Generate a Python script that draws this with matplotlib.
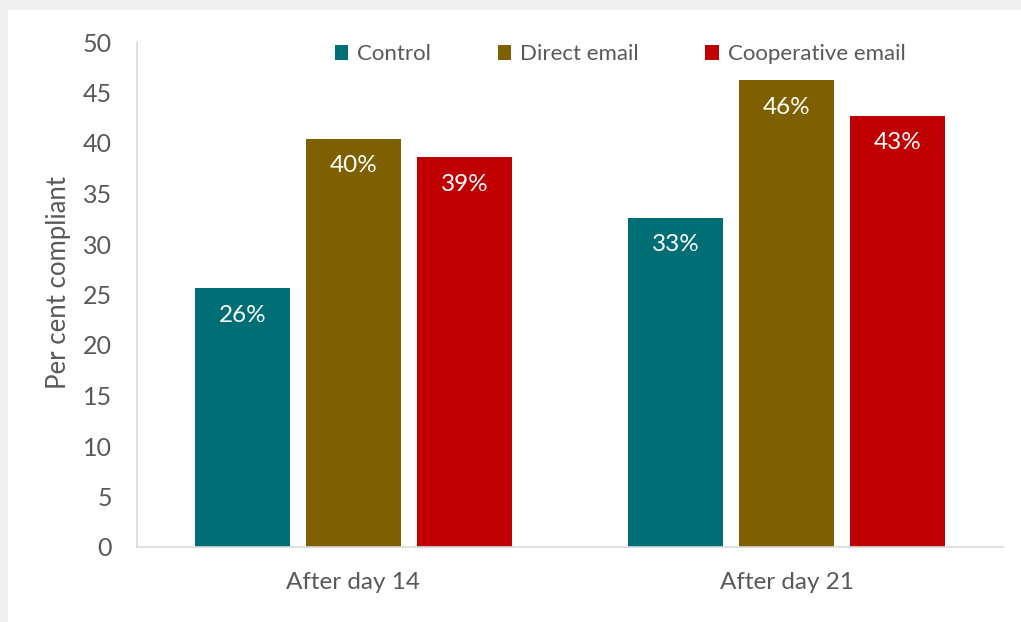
import matplotlib.pyplot as plt
from matplotlib.patches import Rectangle
import numpy as np

# datos
categorias = ["After day 14", "After day 21"]
series = ["Control", "Direct email", "Cooperative email"]
control = [25.6, 32.6]
directo = [40.4, 46.2]
cooperativo = [38.6, 42.7]
etiquetas_control = ["26%", "33%"]
etiquetas_directo = ["40%", "46%"]
etiquetas_cooperativo = ["39%", "43%"]
colores = ["#006F75", "#7F6000", "#C00000"]

plt.rcParams["font.family"] = ["Lato", "DejaVu Sans"]
gris_texto = "#595959"

fig = plt.figure(figsize=(10.21, 6.22), dpi=100)
fig.patch.set_facecolor("#F0F0F0")
# fondo blanco del grafico (franja gris arriba y a la izquierda)
fig.add_artist(Rectangle((8 / 1021, 0), 1 - 8 / 1021, 1 - 10 / 622,
                         transform=fig.transFigure, facecolor="white",
                         edgecolor="none", zorder=0))

ax = fig.add_axes([137 / 1021, 1 - 547 / 622, 866 / 1021, 505 / 622])
ax.set_facecolor("none")

x = np.arange(len(categorias))
ancho = 0.22
paso = 0.256
valores = [control, directo, cooperativo]
etiquetas = [etiquetas_control, etiquetas_directo, etiquetas_cooperativo]

for i, (vals, etqs) in enumerate(zip(valores, etiquetas)):
    pos = x + (i - 1) * paso
    barras = ax.bar(pos, vals, width=ancho, color=colores[i], label=series[i], zorder=2)
    for b, v, t in zip(barras, vals, etqs):
        ax.annotate(t, (b.get_x() + b.get_width() / 2, v), xytext=(0, -27),
                    textcoords="offset pixels",
                    ha="center", va="center", color="white", fontsize=17.5)

ax.set_xlim(-0.5, 1.5)
ax.set_ylim(0, 50)
ax.set_yticks(range(0, 51, 5))
ax.set_xticks(x)
ax.set_xticklabels(categorias)
ax.tick_params(axis="both", length=0, colors=gris_texto)
ax.tick_params(axis="y", pad=18, labelsize=18)
ax.tick_params(axis="x", pad=18, labelsize=17.5)

for lado in ["top", "right"]:
    ax.spines[lado].set_visible(False)
for lado in ["left", "bottom"]:
    ax.spines[lado].set_color("#D9D9D9")
    ax.spines[lado].set_linewidth(1.2)

ax.set_ylabel("Per cent compliant", fontsize=18.5, color=gris_texto)
ax.yaxis.set_label_coords(-0.076, 0.523)

ax.legend(loc="upper center", bbox_to_anchor=(0.558, 1.035), ncol=3, frameon=False,
          fontsize=16, labelcolor=gris_texto, handlelength=0.6, handleheight=0.6,
          handletextpad=0.4, columnspacing=3.0)

fig.savefig("out.png", dpi=100, facecolor=fig.get_facecolor())
